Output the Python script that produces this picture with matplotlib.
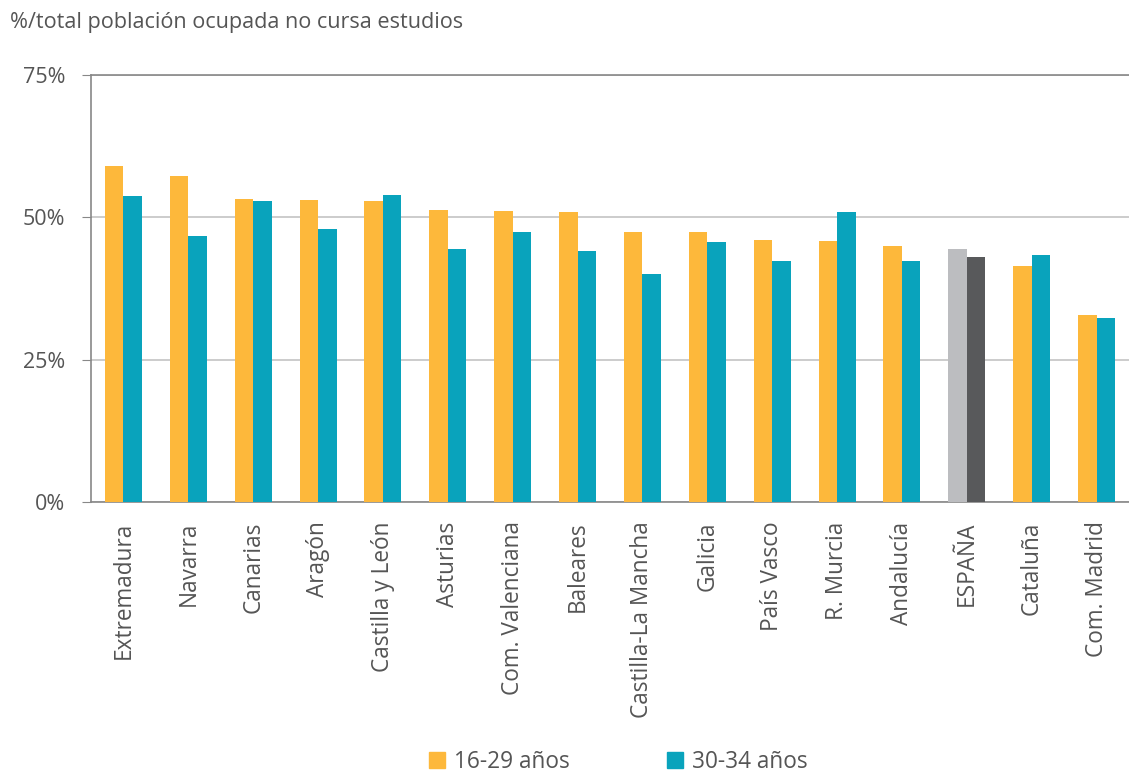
import numpy as np
import matplotlib
matplotlib.use("Agg")
from matplotlib import pyplot as plt
from matplotlib.patches import Patch

regions = ["Extremadura", "Navarra", "Canarias", "Aragón", "Castilla y León", "Asturias",
           "Com. Valenciana", "Baleares", "Castilla-La Mancha", "Galicia", "País Vasco",
           "R. Murcia", "Andalucía", "ESPAÑA", "Cataluña", "Com. Madrid"]
young = [59.0, 57.2, 53.3, 53.0, 52.8, 51.2, 51.1, 50.9, 47.5, 47.5, 46.1, 45.8, 44.9, 44.4, 41.4, 32.9]
older = [53.7, 46.8, 52.8, 47.9, 54.0, 44.5, 47.5, 44.0, 40.0, 45.6, 42.4, 50.9, 42.4, 43.0, 43.3, 32.4]
yticks = [0, 25, 50, 75]

orange = "#FDB83B"
teal = "#09A3BC"
txt = "#555555"

plt.rcParams['font.family'] = ['Open Sans', 'DejaVu Sans']

fig = plt.figure(figsize=(11.29, 7.73), dpi=100)
ax = fig.add_axes([0.0806, 0.3506, 0.9194, 0.5524])

x = np.arange(len(regions))
w = 0.285
c1 = [orange] * len(regions)
c2 = [teal] * len(regions)
i = regions.index("ESPAÑA")
c1[i] = "#BCBDC0"
c2[i] = "#58595B"
ax.bar(x - w / 2, young, w, color=c1, zorder=3)
ax.bar(x + w / 2, older, w, color=c2, zorder=3)

ax.set_xlim(-0.5, len(regions) - 0.5)
ax.set_ylim(0, 75)
ax.set_yticks(yticks)
ax.set_yticklabels([f"{v}%" for v in yticks], fontsize=15.5, color=txt)
ax.yaxis.grid(True, color="#C4C4C4", linewidth=1.2, zorder=0)
ax.tick_params(axis="y", length=6.5, color="#888888", pad=12)
ax.set_xticks(x)
ax.set_xticklabels(regions, rotation=90, fontsize=16.3, color=txt)
ax.tick_params(axis="x", length=0, pad=14)

ax.spines["right"].set_visible(False)
for s in ["left", "bottom", "top"]:
    ax.spines[s].set_color("#888888")
    ax.spines[s].set_linewidth(1.2)

fig.text(0.009, 0.971, "%/total población ocupada no cursa estudios", fontsize=15.6,
         color=txt, ha="left", va="center")

handles = [Patch(color=orange, label="16-29 años"), Patch(color=teal, label="30-34 años")]
fig.legend(handles=handles, loc="center", bbox_to_anchor=(0.548, 0.014), ncol=2, frameon=False,
           fontsize=16.3, handlelength=0.7, handleheight=0.7, handletextpad=0.4, columnspacing=4.3,
           labelcolor=txt)

fig.savefig("out.png", dpi=100)
